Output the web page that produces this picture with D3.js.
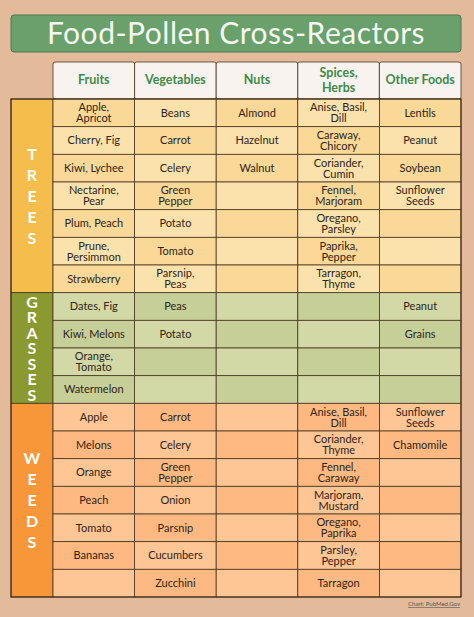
<!DOCTYPE html>
<html><head><meta charset="utf-8">
<script src="https://cdn.jsdelivr.net/npm/d3@7"></script>
<style>body{margin:0;background:#e3bb9a;}svg{display:block;font-family:Lato,"Open Sans",sans-serif;}</style>
</head><body><svg id="chart" width="474" height="617"></svg>
<script>
const title = "Food-Pollen Cross-Reactors";
const categories = ["Fruits", "Vegetables", "Nuts", "Spices,\nHerbs", "Other Foods"];
const groups = [
  { name: "TREES", rows: 7 },
  { name: "GRASSES", rows: 4 },
  { name: "WEEDS", rows: 7 }
];
const fruits = ["Apple,\nApricot","Cherry, Fig","Kiwi, Lychee","Nectarine,\nPear","Plum, Peach","Prune,\nPersimmon","Strawberry",
  "Dates, Fig","Kiwi, Melons","Orange,\nTomato","Watermelon",
  "Apple","Melons","Orange","Peach","Tomato","Bananas",""];
const vegetables = ["Beans","Carrot","Celery","Green\nPepper","Potato","Tomato","Parsnip,\nPeas",
  "Peas","Potato","","",
  "Carrot","Celery","Green\nPepper","Onion","Parsnip","Cucumbers","Zucchini"];
const nuts = ["Almond","Hazelnut","Walnut","","","","",
  "","","","",
  "","","","","","",""];
const spices = ["Anise, Basil,\nDill","Caraway,\nChicory","Coriander,\nCumin","Fennel,\nMarjoram","Oregano,\nParsley","Paprika,\nPepper","Tarragon,\nThyme",
  "","","","",
  "Anise, Basil,\nDill","Coriander,\nThyme","Fennel,\nCaraway","Marjoram,\nMustard","Oregano,\nPaprika","Parsley,\nPepper","Tarragon"];
const other = ["Lentils","Peanut","Soybean","Sunflower\nSeeds","","","",
  "Peanut","Grains","","",
  "Sunflower\nSeeds","Chamomile","","","","",""];
const columns = [fruits, vegetables, nuts, spices, other];

const groupColors = {
  TREES: { label: "#f5bd4b", cells: ["#f9d898", "#fbe2ac"] },
  GRASSES: { label: "#8b9a30", cells: ["#c6cf98", "#d2d9a7"] },
  WEEDS: { label: "#f7973a", cells: ["#fdb981", "#fec595"] }
};
const border = "#4a3521";

const svg = d3.select("#chart");
const nRows = fruits.length;
const x = d3.scaleBand().domain(d3.range(categories.length)).range([53, 461]);
const y = d3.scaleBand().domain(d3.range(nRows)).range([99, 597]);

// title
svg.append("rect").attr("x", 11).attr("y", 15).attr("width", 450).attr("height", 37)
  .attr("rx", 3).attr("fill", "#69a06b").attr("stroke", "#4d7a50").attr("stroke-width", 1);
svg.append("text").attr("x", 236).attr("y", 44).attr("text-anchor", "middle")
  .attr("fill", "#f4f8f0").attr("font-size", 30).attr("letter-spacing", 0.5).text(title);

function multiline(g, txt, cx, cy, size, lh) {
  const lines = txt.split("\n");
  const t = g.append("text").attr("text-anchor", "middle").attr("font-size", size);
  lines.forEach((l, i) => t.append("tspan").attr("x", cx)
    .attr("y", cy + (i - (lines.length - 1) / 2) * lh + size * 0.35).text(l));
  return t;
}

// header
const head = svg.append("g");
categories.forEach((c, i) => {
  head.append("rect").attr("x", x(i)).attr("y", 62).attr("width", x.bandwidth()).attr("height", 37)
    .attr("rx", 2).attr("fill", "#f8f3ee").attr("stroke", border).attr("stroke-width", 0.8);
  multiline(head, c, x(i) + x.bandwidth() / 2, 80, 12.5, 15).attr("fill", "#3f8a47").attr("font-weight", "bold");
});

// group labels and cells
let start = 0;
groups.forEach(gr => {
  const col = groupColors[gr.name];
  const y0 = y(start), y1 = y(start + gr.rows - 1) + y.bandwidth();
  svg.append("rect").attr("x", 11).attr("y", y0).attr("width", 42).attr("height", y1 - y0)
    .attr("fill", col.label).attr("stroke", border).attr("stroke-width", 0.8);
  const letters = gr.name.split("");
  const step = gr.name === "GRASSES" ? 15.5 : 21;
  const mid = (y0 + y1) / 2;
  letters.forEach((L, i) => svg.append("text").attr("x", 32).attr("text-anchor", "middle")
    .attr("y", mid + (i - (letters.length - 1) / 2) * step + 6)
    .attr("fill", "#fff").attr("font-weight", "bold").attr("font-size", 16).text(L));
  for (let r = start; r < start + gr.rows; r++) {
    columns.forEach((vals, c) => {
      svg.append("rect").attr("x", x(c)).attr("y", y(r)).attr("width", x.bandwidth()).attr("height", y.bandwidth())
        .attr("fill", col.cells[(c + r) % 2 === 0 ? 0 : 1]).attr("stroke", border).attr("stroke-width", 0.8);
      if (vals[r]) multiline(svg, vals[r], x(c) + x.bandwidth() / 2, y(r) + y.bandwidth() / 2, 11, 11)
        .attr("fill", "#2e2418");
    });
  }
  start += gr.rows;
});
// outer frame
svg.append("rect").attr("x", 11).attr("y", 99).attr("width", 450).attr("height", 498)
  .attr("fill", "none").attr("stroke", border).attr("stroke-width", 1.2);

svg.append("text").attr("x", 460).attr("y", 606).attr("text-anchor", "end")
  .attr("font-size", 6).attr("fill", "#555").attr("text-decoration", "underline").text("Chart: PubMed.Gov");
</script></body></html>
